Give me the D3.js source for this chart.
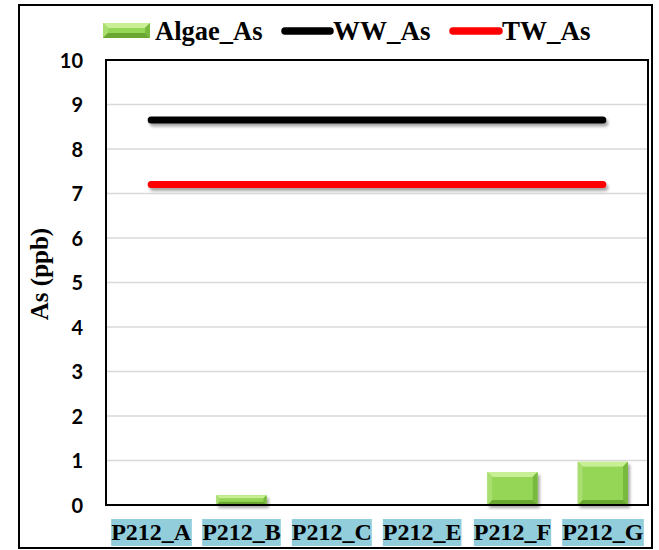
<!DOCTYPE html>
<html>
<head>
<meta charset="utf-8">
<script src="https://cdn.jsdelivr.net/npm/d3@7/dist/d3.min.js"></script>
<style>
  html, body { margin: 0; padding: 0; background: #fff; }
  svg { display: block; }
  .serif { font-family: "Times New Roman", "Liberation Serif", Tinos, serif; font-weight: bold; }
  .sans { font-family: Lato, "Noto Sans", sans-serif; font-weight: bold; }
</style>
</head>
<body>
<script>
// Arsenic concentrations per sampling site
const categories = ["P212_A", "P212_B", "P212_C", "P212_E", "P212_F", "P212_G"];
const algaeAs = [0, 0.22, 0, 0, 0.74, 0.97];
const wwAs = [8.65, 8.65, 8.65, 8.65, 8.65, 8.65];
const twAs = [7.2, 7.2, 7.2, 7.2, 7.2, 7.2];
const yTicks = [0, 1, 2, 3, 4, 5, 6, 7, 8, 9, 10];
const seriesNames = ["Algae_As", "WW_As", "TW_As"];

const W = 659, H = 550;
const plot = { left: 106, top: 60, right: 648, bottom: 505 };

const svg = d3.select("body").append("svg").attr("width", W).attr("height", H);
const defs = svg.append("defs");

// soft drop shadow (user space so flat lines keep a valid filter region)
const shadow = defs.append("filter").attr("id", "shadow").attr("filterUnits", "userSpaceOnUse")
  .attr("x", 0).attr("y", 0).attr("width", W).attr("height", H);
shadow.append("feDropShadow").attr("dx", 2).attr("dy", 3)
  .attr("stdDeviation", 1.8).attr("flood-color", "#000").attr("flood-opacity", 0.35);

// outer frame
svg.append("rect").attr("x", 19).attr("y", 5).attr("width", 633).attr("height", 543)
  .attr("fill", "#fff").attr("stroke", "#000").attr("stroke-width", 2);

const x = d3.scaleBand().domain(categories).range([plot.left, plot.right]).paddingInner(0.445).paddingOuter(0.2225);
const y = d3.scaleLinear().domain([0, 10]).range([plot.bottom, plot.top]);

// gridlines
svg.append("g").selectAll("line").data(yTicks.filter(t => t > 0 && t < 10)).join("line")
  .attr("x1", plot.left).attr("x2", plot.right)
  .attr("y1", d => y(d)).attr("y2", d => y(d))
  .attr("stroke", "#d9d9d9").attr("stroke-width", 1.3);

// y axis labels
const yAxis = d3.axisLeft(y).tickValues(yTicks).tickSize(0).tickPadding(0).tickFormat(d3.format("d"));
const ya = svg.append("g").attr("transform", `translate(83,0)`).call(yAxis);
ya.select(".domain").remove();
ya.attr("font-family", null).attr("font-size", null);
ya.selectAll("text").attr("class", "sans").style("font-size", "20px").attr("fill", "#000").attr("dy", "0.36em");

// bevelled bar drawing
function bevel(g, x0, y0, w, h) {
  const b = Math.min(5, h / 3, w / 3);
  g.append("rect").attr("x", x0).attr("y", y0).attr("width", w).attr("height", h).attr("fill", "#8fd14f");
  g.append("path").attr("d", `M${x0},${y0}L${x0 + w},${y0}L${x0 + w - b},${y0 + b}L${x0 + b},${y0 + b}Z`).attr("fill", "#c8ee96");
  g.append("path").attr("d", `M${x0},${y0}L${x0 + b},${y0 + b}L${x0 + b},${y0 + h - b}L${x0},${y0 + h}Z`).attr("fill", "#a9de6f");
  g.append("path").attr("d", `M${x0 + w},${y0}L${x0 + w - b},${y0 + b}L${x0 + w - b},${y0 + h - b}L${x0 + w},${y0 + h}Z`).attr("fill", "#78ba3e");
  g.append("path").attr("d", `M${x0},${y0 + h}L${x0 + b},${y0 + h - b}L${x0 + w - b},${y0 + h - b}L${x0 + w},${y0 + h}Z`).attr("fill", "#6aa732");
  g.append("rect").attr("x", x0 + b).attr("y", y0 + b).attr("width", Math.max(0, w - 2 * b)).attr("height", Math.max(0, h - 2 * b))
    .attr("fill", "#95d657");
}

const bars = svg.append("g");
categories.forEach((c, i) => {
  const v = algaeAs[i];
  if (v <= 0) return;
  const g = bars.append("g").attr("filter", "url(#shadow)");
  bevel(g, x(c), y(v), x.bandwidth(), y(0) - y(v));
});

// reference lines
const line = d3.line().x((d, i) => x(categories[i]) + x.bandwidth() / 2).y(d => y(d));
[[wwAs, "#000"], [twAs, "#ff0000"]].forEach(([vals, col]) => {
  svg.append("path").datum(vals).attr("d", line).attr("fill", "none")
    .attr("stroke", col).attr("stroke-width", 7).attr("stroke-linecap", "round")
    .attr("filter", "url(#shadow)");
});

// plot frame
svg.append("rect").attr("x", plot.left).attr("y", plot.top)
  .attr("width", plot.right - plot.left).attr("height", plot.bottom - plot.top)
  .attr("fill", "none").attr("stroke", "#000").attr("stroke-width", 2);

// category labels with tinted boxes
const xl = svg.append("g");
categories.forEach(c => {
  const g = xl.append("g");
  const t = g.append("text").attr("class", "serif").attr("x", x(c) + x.bandwidth() / 2).attr("y", 540)
    .attr("text-anchor", "middle").style("font-size", "24px").attr("fill", "#000").text(c);
  const bb = t.node().getBBox();
  g.insert("rect", "text").attr("x", bb.x).attr("y", 519).attr("width", bb.width).attr("height", 27)
    .attr("fill", "#92cddc");
});

// y axis title
svg.append("text").attr("class", "serif").attr("transform", "translate(48,274) rotate(-90)")
  .attr("text-anchor", "middle").style("font-size", "25px").attr("fill", "#000").text("As (ppb)");

// legend
const lg = svg.append("g");
bevel(lg.append("g"), 103, 23, 47, 15);
lg.append("text").attr("class", "serif").attr("x", 155).attr("y", 40).style("font-size", "26.5px").text(seriesNames[0]);
lg.append("line").attr("x1", 285).attr("x2", 330).attr("y1", 31).attr("y2", 31)
  .attr("stroke", "#000").attr("stroke-width", 7.5).attr("stroke-linecap", "round");
lg.append("text").attr("class", "serif").attr("x", 333).attr("y", 40).style("font-size", "27px").text(seriesNames[1]);
lg.append("line").attr("x1", 453).attr("x2", 499).attr("y1", 31).attr("y2", 31)
  .attr("stroke", "#ff0000").attr("stroke-width", 7.5).attr("stroke-linecap", "round");
lg.append("text").attr("class", "serif").attr("x", 502).attr("y", 40).style("font-size", "27px").text(seriesNames[2]);
</script>
</body>
</html>
